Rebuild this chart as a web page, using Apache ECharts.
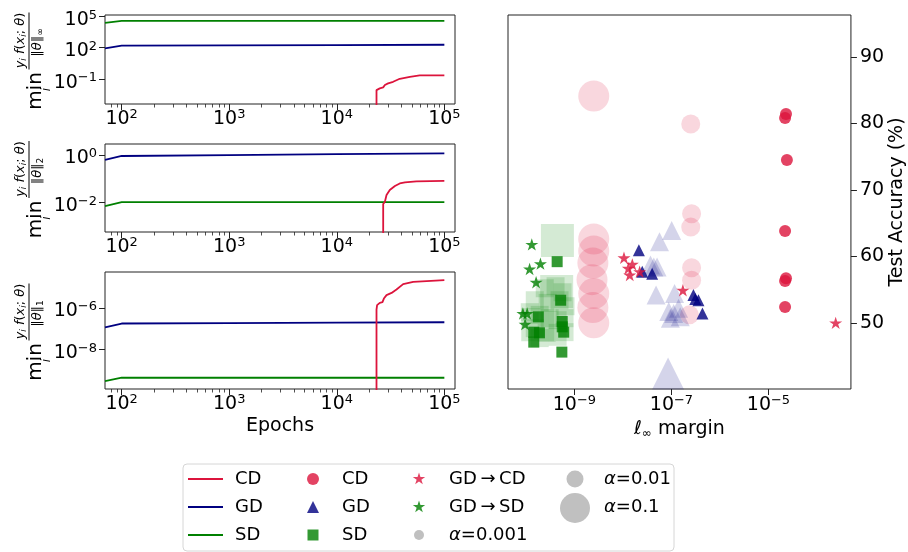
<!DOCTYPE html>
<html>
<head>
<meta charset="utf-8">
<script src="https://cdn.jsdelivr.net/npm/echarts@6/dist/echarts.min.js"></script>
<style>
  html, body { margin: 0; padding: 0; background: #fff; }
  #chart { width: 908px; height: 552px; }
</style>
</head>
<body>
<div id="chart"></div>
<script>
// ---------- margin curves (left panels) ----------
const flatEpochs = [70, 100, 1000, 10000, 100000];

const linfGD = [87, 155, 166, 178, 190];
const linfSD = [22900, 35500, 35500, 35500, 35500];
const linfCDEpochs = [23400, 23400, 25100, 27000, 28000, 30000, 33400, 38500, 47800, 59000, 100000];
const linfCD = [1e-6, 0.0089, 0.0129, 0.0162, 0.0269, 0.0389, 0.055, 0.107, 0.166, 0.224, 0.224];

const l2GD = [0.62, 0.91, 0.99, 1.08, 1.17];
const l2SD = [0.0069, 0.0102, 0.0102, 0.0102, 0.0102];
const l2CDEpochs = [27000, 27000, 28000, 29000, 31100, 34700, 38500, 43000, 55000, 100000];
const l2CD = [1e-5, 0.0085, 0.0107, 0.0204, 0.0331, 0.049, 0.063, 0.070, 0.0776, 0.0813];

const l1GD = [1.15e-7, 1.78e-7, 1.86e-7, 1.95e-7, 2.04e-7];
const l1SD = [3.1e-10, 4.47e-10, 4.47e-10, 4.47e-10, 4.47e-10];
const l1CDEpochs = [23400, 23400, 23700, 25100, 26600, 27400, 29000, 32300, 35900, 41400, 51300, 100000];
const l1CD = [1e-12, 8.3e-7, 1.35e-6, 1.74e-6, 1.9e-6, 2.8e-6, 4.1e-6, 5.2e-6, 7.6e-6, 1.38e-5, 1.78e-5, 2.14e-5];

const epochTicks = [100, 1000, 10000, 100000];
const linfTicks = [0.1, 100, 100000];
const l2Ticks = [0.01, 1];
const l1Ticks = [1e-8, 1e-6];

// ---------- scatter: l_inf margin vs test accuracy ----------
// CD
const cdSmallMargin = [2.3e-5, 2.2e-5, 2.4e-5, 2.2e-5, 2.3e-5, 2.2e-5, 2.2e-5];
const cdSmallAcc = [81.4, 80.8, 74.5, 63.8, 56.7, 56.3, 52.4];
const cdMidMargin = [2.5e-7, 2.6e-7, 2.5e-7, 2.6e-7, 2.6e-7, 2.35e-7];
const cdMidAcc = [79.9, 66.4, 64.4, 58.3, 56.4, 51.2];
const cdBigMargin = [2.5e-9, 2.5e-9, 2.5e-9, 2.4e-9, 2.3e-9, 2.5e-9, 2.4e-9, 2.5e-9];
const cdBigAcc = [84.1, 62.6, 60.8, 59.0, 56.5, 54.4, 52.3, 50.0];
// GD
const gdSmallMargin = [2.13e-8, 2.5e-8, 4.0e-8, 2.84e-7, 3.1e-7, 3.6e-7, 4.35e-7];
const gdSmallAcc = [60.9, 57.7, 57.4, 54.2, 53.6, 53.4, 51.4];
const gdMidMargin = [1.01e-7, 5.66e-8, 3.7e-8, 4.33e-8, 5.05e-8, 4.82e-8, 1.16e-7, 8.8e-8, 1.11e-7, 1.4e-7, 1.52e-7, 9.5e-8];
const gdMidAcc = [63.9, 62.2, 58.7, 58.4, 58.4, 54.2, 54.4, 51.7, 51.4, 52.2, 50.9, 50.7];
const gdBigMargin = [8.5e-8];
const gdBigAcc = [42.4];
// SD
const sdSmallMargin = [4.4e-10, 5.2e-10, 1.8e-10, 5.6e-10, 5.6e-10, 6.0e-10, 1.45e-10, 1.9e-10, 1.45e-10, 5.5e-10];
const sdSmallAcc = [59.2, 53.4, 50.9, 50.2, 49.4, 48.6, 48.6, 48.5, 47.1, 45.6];
const sdMidMargin = [2.44e-10, 4.08e-10, 5.69e-10, 1.52e-10, 2.8e-10, 4.93e-10, 6.55e-10, 1.2e-10, 1.92e-10,
  3.08e-10, 4.49e-10, 6.25e-10, 1.52e-10, 2.67e-10, 4.49e-10, 6.25e-10, 1.92e-10];
const sdMidAcc = [55.2, 55.5, 54.6, 53.4, 53.0, 53.4, 52.5, 51.6, 51.2, 50.7, 50.4, 50.7, 49.2, 48.5, 47.9, 48.6, 47.7];
const sdBigMargin = [4.45e-10, 4.3e-10, 1.75e-10];
const sdBigAcc = [62.4, 54.7, 49.7];
// GD -> CD, GD -> SD
const gdcdMargin = [1.05e-8, 1.56e-8, 1.29e-8, 1.38e-8, 2.21e-8, 1.72e-7, 2.43e-4];
const gdcdAcc = [59.8, 58.8, 58.2, 57.2, 57.7, 54.9, 50.0];
const gdsdMargin = [1.32e-10, 1.99e-10, 1.19e-10, 1.62e-10, 8.65e-11, 1.06e-10, 9.6e-11];
const gdsdAcc = [61.8, 58.9, 58.1, 56.1, 51.4, 51.4, 49.8];

const marginTicks = [1e-9, 1e-7, 1e-5];
const accTicks = [50, 60, 70, 80, 90];

// ---------- helpers ----------
const FONT = 'DejaVu Sans';
const CRIMSON = '#dc143c', NAVY = '#000080', GREEN = '#008000';
const lg = v => Math.log10(v);

const powRich = {
  b: { fontSize: 19, fontFamily: FONT, lineHeight: 22, color: '#000' },
  s: { fontSize: 13, fontFamily: FONT, lineHeight: 13, verticalAlign: 'top', color: '#000' }
};
function powLabel(v) {
  const e = Math.round(v);
  return '{b|10}{s|' + (e < 0 ? '\u2212' + (-e) : e) + '}';
}

function starPoints(cx, cy, r) {
  const pts = [];
  for (let k = 0; k < 10; k++) {
    const rad = k % 2 ? r * 0.382 : r;
    const a = -Math.PI / 2 + k * Math.PI / 5;
    pts.push([cx + rad * Math.cos(a), cy + rad * Math.sin(a)]);
  }
  return pts;
}
const STAR = 'path://M' + starPoints(50, 50, 50).map(p => p[0].toFixed(2) + ',' + p[1].toFixed(2)).join('L') + 'Z';

const leftGrids = [
  { top: 15, height: 89 },
  { top: 144, height: 88 },
  { top: 272, height: 117 }
];
const yRanges = [[-3.38, 5.12], [-3.25, 0.465], [-9.89, -4.28]];
const yTickSets = [linfTicks, l2Ticks, l1Ticks];
const EPOCH_MIN = 1.845, EPOCH_MAX = 5.099;

const minorEpochs = [];
for (let n = 1; n <= 5; n++) {
  for (let k = 2; k <= 9; k++) {
    const v = lg(k * Math.pow(10, n));
    if (v > EPOCH_MIN + 0.01 && v < EPOCH_MAX) minorEpochs.push(v);
  }
}

const grids = leftGrids.map(g => ({
  left: 105, width: 350, top: g.top, height: g.height,
  show: true, borderColor: '#222', borderWidth: 1, backgroundColor: 'rgba(0,0,0,0)'
}));
grids.push({ left: 508, width: 346, top: 15, height: 374,
  show: true, borderColor: '#222', borderWidth: 1, backgroundColor: 'rgba(0,0,0,0)' });

const nameStyle = { fontSize: 19, fontFamily: FONT, color: '#000' };

const xAxes = [];
[0, 1, 2].forEach(g => xAxes.push({
  type: 'value', gridIndex: g, position: 'bottom', min: EPOCH_MIN, max: EPOCH_MAX,
  axisLine: { show: false, onZero: false },
  splitLine: { show: false },
  axisTick: { show: true, length: 6, lineStyle: { color: '#222' }, customValues: epochTicks.map(lg) },
  axisLabel: { show: true, margin: 4, formatter: powLabel, rich: powRich, customValues: epochTicks.map(lg) },
  name: g === 2 ? 'Epochs' : '', nameLocation: 'middle', nameGap: 28, nameTextStyle: nameStyle
}));
xAxes.push({
  type: 'value', gridIndex: 3, position: 'bottom', min: -10.37, max: -3.30,
  axisLine: { show: false, onZero: false },
  splitLine: { show: false },
  axisTick: { show: true, length: 6, lineStyle: { color: '#222' }, customValues: marginTicks.map(lg) },
  axisLabel: { show: true, margin: 5, formatter: powLabel, rich: powRich, customValues: marginTicks.map(lg) },
  name: '{l|\u2113}{s|\u221e}{n| margin}', nameLocation: 'middle', nameGap: 28,
  nameTextStyle: {
    fontSize: 19, fontFamily: FONT, color: '#000',
    rich: {
      l: { fontSize: 19, fontFamily: FONT, fontStyle: 'italic', lineHeight: 22, color: '#000' },
      s: { fontSize: 12, fontFamily: FONT, lineHeight: 12, verticalAlign: 'bottom', color: '#000' },
      n: { fontSize: 19, fontFamily: FONT, lineHeight: 22, color: '#000' }
    }
  }
});
[0, 1, 2].forEach(g => xAxes.push({
  type: 'value', gridIndex: g, position: 'bottom', min: EPOCH_MIN, max: EPOCH_MAX,
  axisLine: { show: false, onZero: false },
  splitLine: { show: false },
  axisLabel: { show: false },
  axisTick: { show: true, length: 3.5, lineStyle: { color: '#222', width: 0.8 }, customValues: minorEpochs }
}));

const yAxes = [0, 1, 2].map(g => ({
  type: 'value', gridIndex: g, min: yRanges[g][0], max: yRanges[g][1],
  axisLine: { show: false, onZero: false },
  splitLine: { show: false },
  axisTick: { show: true, length: 6, lineStyle: { color: '#222' }, customValues: yTickSets[g].map(lg) },
  axisLabel: { show: true, margin: 8, formatter: powLabel, rich: powRich, padding: [7, 0, 0, 0],
    customValues: yTickSets[g].map(lg) }
}));
yAxes.push({
  type: 'value', gridIndex: 3, position: 'right', min: 40.05, max: 96.3,
  axisLine: { show: false, onZero: false },
  splitLine: { show: false },
  axisTick: { show: true, length: 6, lineStyle: { color: '#222' }, customValues: accTicks },
  axisLabel: { show: true, margin: 9, fontSize: 19, fontFamily: FONT, color: '#000', customValues: accTicks },
  name: 'Test Accuracy (%)', nameLocation: 'middle', nameRotate: 90, nameGap: 37, nameTextStyle: nameStyle
});

// ---------- series ----------
function curve(epochs, vals) { return epochs.map((e, i) => [lg(e), lg(vals[i])]); }
function lineSeries(g, epochs, vals, color) {
  return {
    type: 'line', xAxisIndex: g, yAxisIndex: g, data: curve(epochs, vals),
    symbol: 'none', showSymbol: false, clip: true, silent: true,
    lineStyle: { color: color, width: 1.8 }
  };
}
function pts(ms, accs) { return ms.map((m, i) => [lg(m), accs[i]]); }
function scatter(ms, accs, symbol, size, color, opacity) {
  return {
    type: 'scatter', xAxisIndex: 3, yAxisIndex: 3, data: pts(ms, accs),
    symbol: symbol, symbolSize: size, clip: true, silent: true,
    itemStyle: { color: color, opacity: opacity }
  };
}
const LIGHT = 0.17, SOLID = 0.8;

const series = [
  lineSeries(0, flatEpochs, linfGD, NAVY),
  lineSeries(0, flatEpochs, linfSD, GREEN),
  lineSeries(0, linfCDEpochs, linfCD, CRIMSON),
  lineSeries(1, flatEpochs, l2GD, NAVY),
  lineSeries(1, flatEpochs, l2SD, GREEN),
  lineSeries(1, l2CDEpochs, l2CD, CRIMSON),
  lineSeries(2, flatEpochs, l1GD, NAVY),
  lineSeries(2, flatEpochs, l1SD, GREEN),
  lineSeries(2, l1CDEpochs, l1CD, CRIMSON),

  scatter(cdBigMargin, cdBigAcc, 'circle', 31, CRIMSON, LIGHT),
  scatter(cdMidMargin, cdMidAcc, 'circle', 19, CRIMSON, LIGHT),
  scatter(gdBigMargin, gdBigAcc, 'triangle', 32, NAVY, LIGHT),
  scatter(gdMidMargin, gdMidAcc, 'triangle', 19, NAVY, LIGHT),
  scatter(sdBigMargin, sdBigAcc, 'rect', 33, GREEN, LIGHT),
  scatter(sdMidMargin, sdMidAcc, 'rect', 18, GREEN, LIGHT),
  scatter(cdSmallMargin, cdSmallAcc, 'circle', 12, CRIMSON, SOLID),
  scatter(gdSmallMargin, gdSmallAcc, 'triangle', 12, NAVY, SOLID),
  scatter(sdSmallMargin, sdSmallAcc, 'rect', 11, GREEN, SOLID),
  scatter(gdcdMargin, gdcdAcc, STAR, [13, 12.4], CRIMSON, SOLID),
  scatter(gdsdMargin, gdsdAcc, STAR, [13, 12.4], GREEN, SOLID)
];

// ---------- y labels of the left panels (rotated math text) ----------
const mathRich = {
  it: { fontSize: 13, fontFamily: FONT, fontStyle: 'italic', lineHeight: 16, color: '#000' },
  n: { fontSize: 13, fontFamily: FONT, lineHeight: 16, color: '#000' },
  sb: { fontSize: 9, fontFamily: FONT, fontStyle: 'italic', lineHeight: 9, verticalAlign: 'bottom', color: '#000' },
  sn: { fontSize: 9, fontFamily: FONT, lineHeight: 9, verticalAlign: 'bottom', color: '#000' }
};
function plain(text, x, y, size, style) {
  return { type: 'text', silent: true, style: {
    text: text, x: x, y: y, fontSize: size, fontFamily: FONT, fontStyle: style || 'normal', fill: '#000',
    align: 'center', verticalAlign: 'middle', textAlign: 'center', textVerticalAlign: 'middle' } };
}
function ylabel(cy, norm) {
  return {
    type: 'group', x: 29, y: cy + 48, rotation: Math.PI / 2, silent: true,
    children: [
      plain('min', 16.5, 7, 20),
      plain('i', 18, 17.5, 12, 'italic'),
      { type: 'line', shape: { x1: 38, y1: 0, x2: 95, y2: 0 }, style: { stroke: '#000', lineWidth: 1 } },
      { type: 'text', style: {
        text: '{it|y}{sb|i}{n| }{it|f}{n|(}{it|x}{sb|i}{n|; }{it|\u03b8}{n|)}',
        rich: mathRich, x: 67, y: -8.5, fill: '#000',
        align: 'center', verticalAlign: 'middle', textAlign: 'center', textVerticalAlign: 'middle' } },
      { type: 'text', style: {
        text: '{n|\u2016}{it|\u03b8}{n|\u2016}{sn|' + norm + '}',
        rich: mathRich, x: 65, y: 8.5, fill: '#000',
        align: 'center', verticalAlign: 'middle', textAlign: 'center', textVerticalAlign: 'middle' } }
    ]
  };
}

// ---------- legend (drawn as graphic) ----------
function txt(x, y, text, rich) {
  return { type: 'text', silent: true, style: {
    text: text, x: x, y: y, fontSize: 18, fontFamily: FONT, fill: '#000', rich: rich,
    align: 'left', verticalAlign: 'middle', textAlign: 'left', textVerticalAlign: 'middle' } };
}
const alphaRich = {
  a: { fontSize: 18, fontFamily: FONT, fontStyle: 'italic', color: '#000' },
  n: { fontSize: 18, fontFamily: FONT, color: '#000' }
};
const rows = [479, 507, 535];
const legend = [
  { type: 'rect', silent: true, shape: { x: 183, y: 464, width: 491, height: 87, r: 4 },
    style: { fill: '#fff', stroke: '#d6d6d6', lineWidth: 1 } },
  { type: 'line', silent: true, shape: { x1: 188, y1: rows[0], x2: 223, y2: rows[0] }, style: { stroke: CRIMSON, lineWidth: 2 } },
  { type: 'line', silent: true, shape: { x1: 188, y1: rows[1], x2: 223, y2: rows[1] }, style: { stroke: NAVY, lineWidth: 2 } },
  { type: 'line', silent: true, shape: { x1: 188, y1: rows[2], x2: 223, y2: rows[2] }, style: { stroke: GREEN, lineWidth: 2 } },
  txt(235, rows[0], 'CD'), txt(235, rows[1], 'GD'), txt(235, rows[2], 'SD'),
  { type: 'circle', silent: true, shape: { cx: 313, cy: rows[0], r: 6 }, style: { fill: CRIMSON, opacity: SOLID } },
  { type: 'polygon', silent: true, shape: { points: [[313, rows[1] - 6], [319, rows[1] + 6], [307, rows[1] + 6]] },
    style: { fill: NAVY, opacity: SOLID } },
  { type: 'rect', silent: true, shape: { x: 307.5, y: rows[2] - 5.5, width: 11, height: 11 }, style: { fill: GREEN, opacity: SOLID } },
  txt(342, rows[0], 'CD'), txt(342, rows[1], 'GD'), txt(342, rows[2], 'SD'),
  { type: 'polygon', silent: true, shape: { points: starPoints(419, rows[0], 6.5) }, style: { fill: CRIMSON, opacity: SOLID } },
  { type: 'polygon', silent: true, shape: { points: starPoints(419, rows[1], 6.5) }, style: { fill: GREEN, opacity: SOLID } },
  { type: 'circle', silent: true, shape: { cx: 419, cy: rows[2], r: 5 }, style: { fill: '#c0c0c0' } },
  txt(449, rows[0], 'GD\u2009\u2192\u2009CD'), txt(449, rows[1], 'GD\u2009\u2192\u2009SD'),
  txt(449, rows[2], '{a|\u03b1}{n|=0.001}', alphaRich),
  { type: 'circle', silent: true, shape: { cx: 575, cy: rows[0], r: 8.5 }, style: { fill: '#c0c0c0' } },
  { type: 'circle', silent: true, shape: { cx: 575, cy: rows[1] + 1, r: 15 }, style: { fill: '#c0c0c0' } },
  txt(604, rows[0], '{a|\u03b1}{n|=0.01}', alphaRich),
  txt(604, rows[1], '{a|\u03b1}{n|=0.1}', alphaRich)
];

const chart = echarts.init(document.getElementById('chart'), null, { renderer: 'canvas' });
chart.setOption({
  animation: false,
  backgroundColor: '#fff',
  textStyle: { fontFamily: FONT },
  grid: grids,
  xAxis: xAxes,
  yAxis: yAxes,
  series: series,
  graphic: [
    ylabel(59.5, '\u221e'),
    ylabel(188, '2'),
    ylabel(330.5, '1')
  ].concat(legend)
});
window.addEventListener('resize', () => chart.resize());
</script>
</body>
</html>
